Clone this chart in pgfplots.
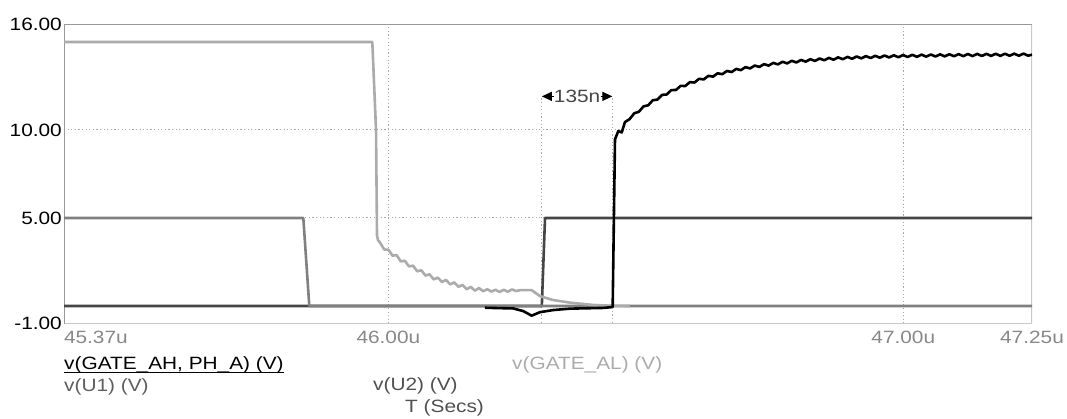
\documentclass[border=0pt]{standalone}
\usepackage{pgfplots}
\pgfplotsset{compat=1.18}
\usetikzlibrary{arrows.meta}
\usepackage{fontspec}
\setmainfont{Liberation Sans}[FakeStretch=1.17]
\definecolor{cAL}{HTML}{ABABAB}
\definecolor{cU1}{HTML}{808080}
\definecolor{cU2}{HTML}{454545}
\definecolor{cLU1}{HTML}{5E5E5E}
\definecolor{cLU2}{HTML}{505050}
\definecolor{cAx}{HTML}{999999}
\definecolor{cAx2}{HTML}{C8C8C8}
\definecolor{cGrid}{HTML}{A8A8A8}
\definecolor{cTick}{HTML}{888888}
\newcommand\ff{\fontsize{17.8bp}{21bp}\selectfont}
\tikzset{gridl/.style={cGrid, line width=1bp, dash pattern=on 1.2bp off 2.4bp}}
\begin{document}
\begin{tikzpicture}
\useasboundingbox (0,0) rectangle (1067bp,419bp);
\begin{axis}[
  at={(64bp,95.4bp)}, anchor=south west, scale only axis,
  width=968bp, height=299.2bp,
  xmin=45.37, xmax=47.25, ymin=-1, ymax=16,
  axis line style={draw=none},
  xtick={45.37,46,47,47.25},
  xticklabels={\makebox[0pt][l]{45.37u},46.00u,47.00u,47.25u},
  ytick={-1,5,10,16},
  yticklabels={\raisebox{-5bp}{-1.00},5.00,10.00,16.00},
  major tick length=0pt,
  xticklabel style={font=\ff, text=cTick, inner sep=0pt, anchor=north, yshift=-7bp},
  yticklabel style={font=\ff, text=black, inner sep=0pt, anchor=east, xshift=-2bp},
  line join=round,
  every axis plot/.append style={line width=2.6bp},
]
% grid
\draw[gridl] (axis cs:45.37,5) -- (axis cs:47.25,5);
\draw[gridl] (axis cs:45.37,10) -- (axis cs:47.25,10);
\draw[gridl] (axis cs:46,-1) -- (axis cs:46,16);
\draw[gridl] (axis cs:47,-1) -- (axis cs:47,16);
% cursors
\draw[gridl] (axis cs:46.298,11.80) -- (axis cs:46.298,-1);
\draw[gridl] (axis cs:46.435,11.80) -- (axis cs:46.435,-1);
% borders
\draw[cAx2, line width=1.2bp] (rel axis cs:0,0) -- (rel axis cs:1,0) -- (rel axis cs:1,1);
\draw[cAx, line width=1.2bp] (rel axis cs:0,0) -- (rel axis cs:0,1) -- (rel axis cs:1,1);

% v(U2)
\addplot[color=cU2] coordinates {(45.37,0) (46.298,0) (46.3042,5) (47.25,5)};
% v(U1)
\addplot[color=cU1] coordinates {(45.37,5) (45.8348,5) (45.8464,0) (47.25,0)};
% v(GATE_AL)
\addplot[color=cAL] coordinates {
(45.37,15) (45.9688,15) (45.9760,10) (45.9779,4.0) (45.9798,3.75)
(45.984,3.59) (45.992,3.21) (46.000,3.20) (46.008,2.86) (46.016,2.89)
(46.024,2.54) (46.032,2.57) (46.040,2.25) (46.048,2.29) (46.056,1.97)
(46.064,2.03) (46.072,1.73) (46.080,1.80) (46.088,1.51) (46.096,1.61)
(46.104,1.37) (46.112,1.48) (46.120,1.23) (46.128,1.34) (46.136,1.09)
(46.144,1.20) (46.152,0.95) (46.160,1.09) (46.168,0.87) (46.176,1.02)
(46.184,0.84) (46.192,0.95) (46.200,0.82) (46.208,0.92) (46.216,0.80)
(46.224,0.92) (46.232,0.81) (46.240,0.94) (46.248,0.85) (46.256,0.90)
(46.264,0.90) (46.2783,0.90) (46.2944,0.56) (46.3197,0.34) (46.3527,0.19)
(46.3974,0.06) (46.4362,0.01) (46.4692,0.0)};
% v(GATE_AH, PH_A)
\addplot[color=black] coordinates {
(46.1876,-0.10) (46.2426,-0.14) (46.2620,-0.29) (46.2783,-0.55) (46.2944,-0.35)
(46.3203,-0.23) (46.3527,-0.15) (46.3852,-0.13) (46.4168,-0.11) (46.4356,-0.06)
(46.4401,9.47) (46.4465,9.94) (46.4531,9.86) (46.4595,10.45)
(46.4685,10.618) (46.4775,10.952) (46.4865,11.034) (46.4955,11.344) (46.5045,11.402)
(46.5135,11.690) (46.5225,11.728) (46.5315,11.997) (46.5405,12.017) (46.5495,12.268)
(46.5585,12.272) (46.5675,12.508) (46.5765,12.498) (46.5855,12.721) (46.5945,12.698)
(46.6035,12.909) (46.6125,12.875) (46.6215,13.076) (46.6305,13.032) (46.6395,13.223)
(46.6485,13.171) (46.6575,13.354) (46.6665,13.293) (46.6755,13.469) (46.6845,13.402)
(46.6935,13.572) (46.7025,13.498) (46.7115,13.662) (46.7205,13.583) (46.7295,13.742)
(46.7385,13.659) (46.7475,13.813) (46.7565,13.726) (46.7655,13.876) (46.7745,13.785)
(46.7835,13.932) (46.7925,13.837) (46.8015,13.981) (46.8105,13.883) (46.8195,14.024)
(46.8285,13.924) (46.8375,14.063) (46.8465,13.961) (46.8555,14.097) (46.8645,13.993)
(46.8735,14.127) (46.8825,14.021) (46.8915,14.154) (46.9005,14.046) (46.9095,14.178)
(46.9185,14.069) (46.9275,14.199) (46.9365,14.088) (46.9455,14.217) (46.9545,14.106)
(46.9635,14.234) (46.9725,14.121) (46.9815,14.248) (46.9905,14.135) (46.9995,14.261)
(47.0085,14.147) (47.0175,14.272) (47.0265,14.157) (47.0355,14.282) (47.0445,14.167)
(47.0535,14.291) (47.0625,14.175) (47.0715,14.299) (47.0805,14.183) (47.0895,14.306)
(47.0985,14.189) (47.1075,14.312) (47.1165,14.195) (47.1255,14.318) (47.1345,14.200)
(47.1435,14.323) (47.1525,14.205) (47.1615,14.327) (47.1705,14.209) (47.1795,14.331)
(47.1885,14.213) (47.1975,14.334) (47.2065,14.216) (47.2155,14.337) (47.2245,14.219)
(47.2335,14.340) (47.2425,14.221) (47.25,14.282)};

% 135n annotation
\draw[line width=1.2bp, -{Triangle[length=10bp,width=9bp]}] (axis cs:46.321,11.91) -- (axis cs:46.298,11.91);
\draw[line width=1.2bp, -{Triangle[length=10bp,width=9bp]}] (axis cs:46.412,11.91) -- (axis cs:46.435,11.91);
\node[font=\ff, text=cU2, inner sep=0pt] at (axis cs:46.3665,11.91) {135n};
\end{axis}
\node[anchor=base west, inner sep=0pt, font=\ff] (ga) at (64bp,49bp) {v(GATE\_AH, PH\_A) (V)};
\draw[line width=1.8bp] ([yshift=-2.6bp]ga.base west) -- ([yshift=-2.6bp]ga.base east);
\node[anchor=base west, inner sep=0pt, font=\ff, text=cAL] at (512bp,49bp) {v(GATE\_AL) (V)};
\node[anchor=base west, inner sep=0pt, font=\ff, text=cLU1] at (64bp,27.5bp) {v(U1) (V)};
\node[anchor=base west, inner sep=0pt, font=\ff, text=cLU2] at (373bp,28.5bp) {v(U2) (V)};
\node[anchor=base west, inner sep=0pt, font=\ff, text=cLU2] at (405bp,7bp) {T (Secs)};
\end{tikzpicture}
\end{document}
